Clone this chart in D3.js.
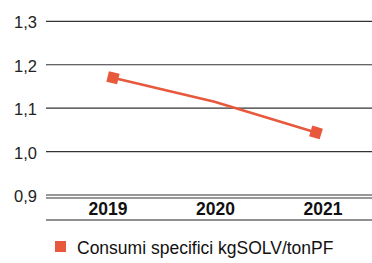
<!DOCTYPE html>
<html>
<head>
<meta charset="utf-8">
<script src="https://cdn.jsdelivr.net/npm/d3@7"></script>
<style>
  body { margin: 0; background: #fff; }
  svg { display: block; font-family: "Liberation Sans", Arial, sans-serif; }
</style>
</head>
<body>
<div id="chart"></div>
<script>
// data
const years = ['2019', '2020', '2021'];
const values = [1.17, 1.115, 1.044];
const showMarker = [true, false, true];
const yTicks = [0.9, 1.0, 1.1, 1.2, 1.3];
const seriesName = 'Consumi specifici kgSOLV/tonPF';

const width = 372, height = 263;
const color = '#e8583c';

const svg = d3.select('#chart').append('svg')
    .attr('width', width)
    .attr('height', height);

const y = d3.scaleLinear().domain([0.9, 1.3]).range([195, 21.3]);
const xLine = d3.scalePoint().domain(years).range([113, 316]);
const xLabel = d3.scalePoint().domain(years).range([108, 323]);

const fmt = d => d.toFixed(1).replace('.', ',');

// grid lines
svg.append('g')
    .selectAll('line')
    .data(yTicks)
    .enter()
    .append('line')
    .attr('x1', 46)
    .attr('x2', width)
    .attr('y1', d => y(d))
    .attr('y2', d => y(d))
    .attr('stroke', '#333')
    .attr('stroke-width', 1.2);

// y labels
svg.append('g')
    .selectAll('text')
    .data(yTicks)
    .enter()
    .append('text')
    .attr('x', 37)
    .attr('y', d => y(d) + 7)
    .attr('text-anchor', 'end')
    .attr('font-size', 16.5)
    .attr('fill', '#222')
    .text(fmt);

// second baseline + bottom line
svg.append('line')
    .attr('x1', 46).attr('x2', width)
    .attr('y1', 198).attr('y2', 198)
    .attr('stroke', '#333').attr('stroke-width', 1.2);
svg.append('line')
    .attr('x1', 46).attr('x2', width)
    .attr('y1', 220).attr('y2', 220)
    .attr('stroke', '#222').attr('stroke-width', 1.2);

// x labels
svg.append('g')
    .selectAll('text')
    .data(years)
    .enter()
    .append('text')
    .attr('x', d => xLabel(d))
    .attr('y', 214.5)
    .attr('text-anchor', 'middle')
    .attr('font-size', 17.5)
    .attr('font-weight', 'bold')
    .attr('fill', '#111')
    .text(d => d);

// line
const line = d3.line()
    .x((d, i) => xLine(years[i]))
    .y(d => y(d));

svg.append('path')
    .datum(values)
    .attr('d', line)
    .attr('fill', 'none')
    .attr('stroke', color)
    .attr('stroke-width', 2.6);

// markers, rotated along the line
const pts = values.map((v, i) => [xLine(years[i]), y(v)]);
svg.append('g')
    .selectAll('rect')
    .data(values.map((v, i) => i).filter(i => showMarker[i]))
    .enter()
    .append('rect')
    .attr('x', -5.5)
    .attr('y', -5.5)
    .attr('width', 11)
    .attr('height', 11)
    .attr('fill', color)
    .attr('transform', i => {
        const a = pts[Math.max(i - 1, 0)], b = pts[Math.min(i + 1, pts.length - 1)];
        const ang = Math.atan2(b[1] - a[1], b[0] - a[0]) * 180 / Math.PI;
        return `translate(${pts[i][0]},${pts[i][1]}) rotate(${ang})`;
    });

// legend
svg.append('rect')
    .attr('x', 55).attr('y', 241)
    .attr('width', 11).attr('height', 11)
    .attr('fill', color);
svg.append('text')
    .attr('x', 77)
    .attr('y', 253.5)
    .attr('font-size', 17.5)
    .attr('fill', '#111')
    .text(seriesName);
</script>
</body>
</html>
